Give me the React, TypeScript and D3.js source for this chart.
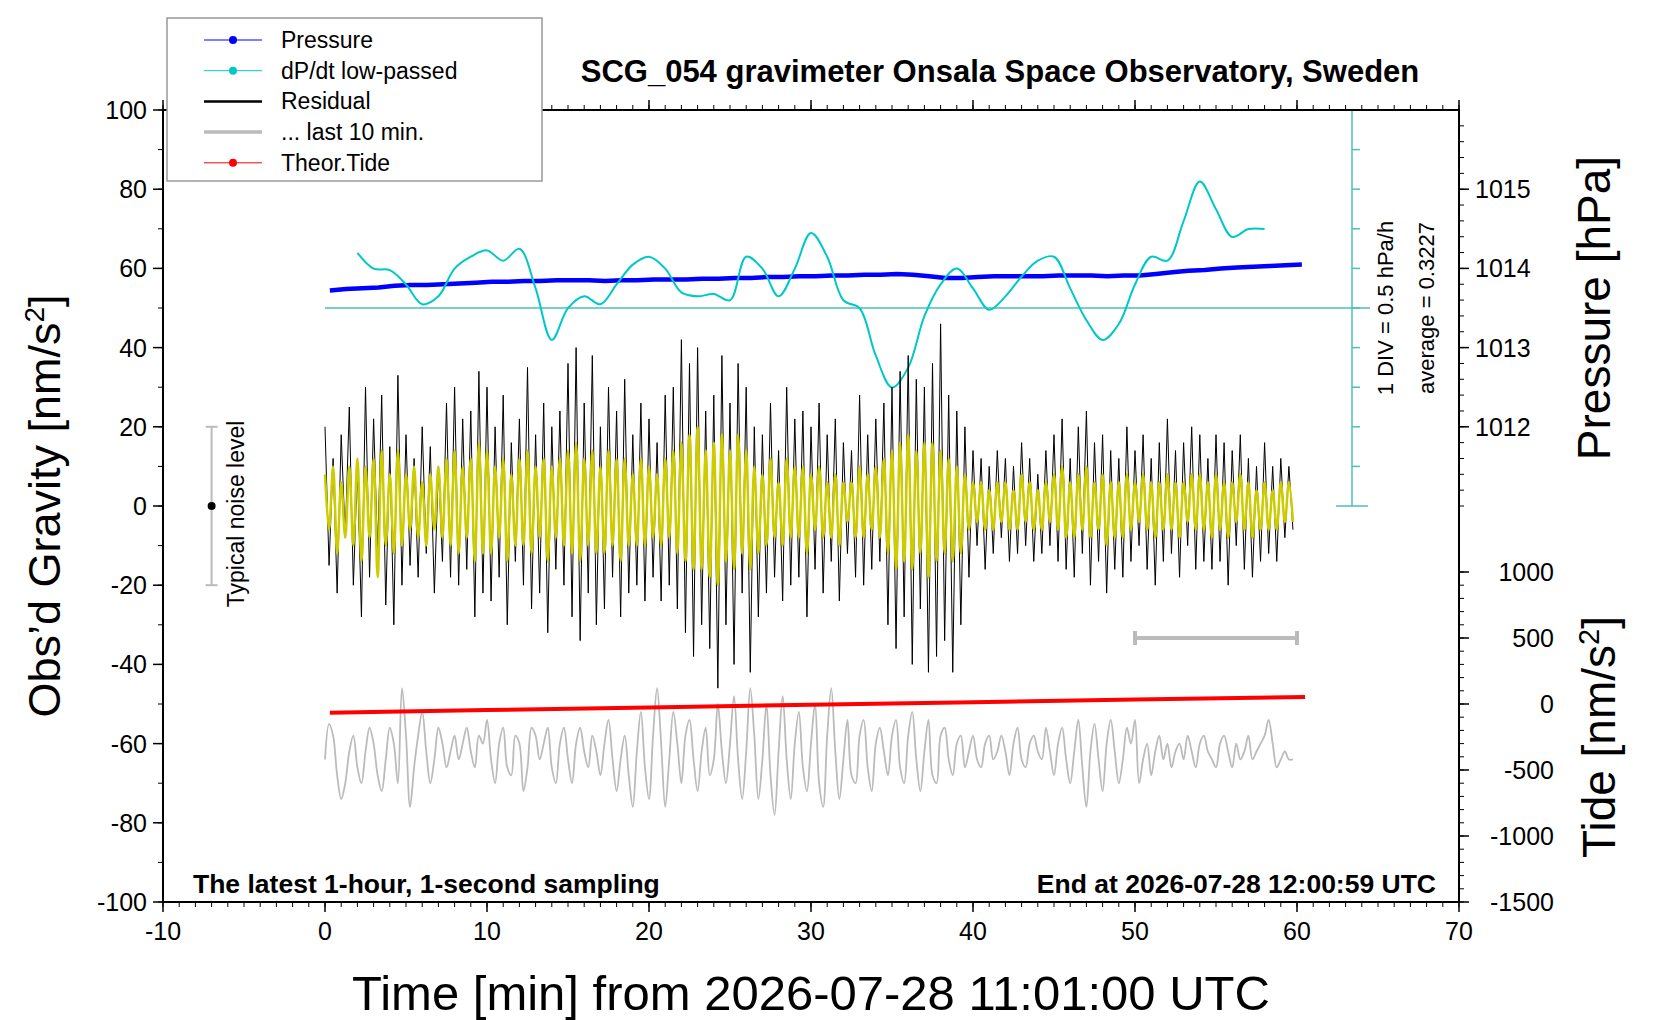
import * as d3 from 'd3';

// time axis (minutes), sample step of hand-read series
const step = 0.25;

const residual = [
  20,-15,12,-22,18,-8,25,-20,10,-28,30,-18,22,-12,28,-25,15,-30,33,-20,
  18,-15,12,-18,20,-12,15,-22,10,-14,26,-18,30,-20,22,-16,24,-28,34,-22,
  30,-24,20,-18,28,-30,16,-14,22,-20,35,-26,18,-22,26,-32,20,-16,24,-20,
  36,-28,40,-34,26,-22,38,-30,20,-26,30,-18,24,-28,32,-22,18,-20,26,-24,
  22,-18,16,-24,28,-20,30,-26,42,-32,36,-38,40,-30,24,-36,28,-46,38,-30,
  26,-40,36,-22,30,-42,20,-28,18,-22,26,-18,14,-24,30,-20,22,-18,24,-28,
  20,-16,26,-22,18,-14,22,-24,16,-12,14,-18,28,-20,18,-16,22,-14,26,-30,
  30,-36,34,-28,38,-40,32,-26,30,-42,36,-38,46,-34,28,-42,24,-30,20,-18,
  14,-10,12,-16,10,-12,14,-8,12,-14,10,-12,16,-10,12,-14,8,-12,14,-10,
  18,-14,22,-16,12,-18,20,-12,24,-20,16,-14,18,-22,14,-16,12,-18,20,-14,
  14,-10,18,-16,12,-20,16,-14,22,-12,14,-18,16,-10,20,-16,18,-14,12,-16,
  18,-14,16,-20,14,-10,18,-16,12,-18,10,-14,16,-12,10,-14,12,-8,10,-6,
];

const filtered = [
  8,-6,10,-12,6,-8,10,-10,12,-14,10,-8,12,-18,14,-10,8,-12,14,-10,
  8,-6,10,-8,6,-10,8,-6,10,-8,12,-10,14,-12,10,-8,12,-14,16,-12,
  14,-12,10,-8,12,-14,8,-10,12,-10,14,-12,10,-8,12,-14,10,-8,12,-10,
  14,-12,16,-14,12,-10,14,-12,10,-12,14,-10,12,-14,12,-10,8,-10,12,-10,
  10,-8,8,-10,12,-8,14,-12,16,-14,18,-16,20,-16,14,-18,16,-20,18,-14,
  14,-16,18,-12,14,-16,10,-12,8,-10,12,-8,6,-10,12,-8,10,-8,10,-12,
  8,-6,10,-8,6,-8,8,-10,6,-4,6,-8,10,-8,8,-6,10,-8,12,-12,
  14,-16,16,-14,18,-16,14,-12,16,-18,16,-14,14,-12,12,-14,10,-12,8,-6,
  6,-4,6,-6,4,-6,6,-4,6,-6,4,-6,8,-4,6,-6,4,-6,6,-4,
  8,-6,10,-8,6,-8,8,-6,10,-8,6,-6,8,-10,6,-8,6,-8,8,-6,
  6,-4,8,-6,6,-8,6,-6,8,-6,6,-8,6,-4,8,-6,8,-6,6,-8,
  8,-6,6,-8,6,-4,8,-6,6,-8,4,-6,6,-6,4,-6,6,-4,6,-4,
];

const last10 = [
  -64,-55,-58,-68,-74,-70,-62,-58,-66,-70,-62,-56,-60,-68,-72,-64,-56,-60,-70,-46,
  -58,-76,-66,-58,-52,-62,-70,-64,-56,-60,-66,-62,-58,-64,-60,-56,-62,-66,-58,-60,
  -54,-64,-70,-60,-56,-66,-68,-58,-60,-72,-66,-56,-58,-64,-60,-56,-66,-70,-60,-56,
  -64,-70,-60,-56,-62,-66,-58,-62,-68,-60,-54,-64,-72,-64,-58,-68,-76,-62,-52,-66,
  -74,-58,-46,-60,-76,-64,-52,-60,-70,-58,-54,-64,-72,-62,-56,-68,-64,-50,-62,-70,
  -60,-48,-64,-74,-62,-46,-58,-74,-64,-50,-68,-78,-62,-48,-64,-74,-60,-52,-66,-72,
  -60,-50,-70,-76,-58,-46,-62,-74,-64,-54,-68,-70,-58,-54,-66,-72,-60,-56,-62,-68,
  -58,-54,-66,-70,-58,-52,-64,-72,-62,-54,-68,-70,-58,-56,-64,-68,-60,-58,-66,-62,
  -58,-64,-66,-60,-58,-64,-62,-58,-62,-68,-60,-56,-64,-66,-60,-58,-62,-64,-56,-62,
  -68,-60,-56,-64,-70,-62,-54,-66,-76,-62,-55,-64,-72,-60,-54,-62,-70,-64,-56,-60,
  -54,-70,-64,-60,-68,-62,-58,-64,-60,-66,-62,-60,-64,-58,-62,-66,-60,-58,-62,-64,
  -66,-60,-58,-62,-66,-60,-64,-62,-58,-64,-62,-60,-58,-54,-60,-66,-64,-62,-64,-64,
];

// pressure, hPa, one value per minute from 0.3 min
const pressure = [
  1013.72,1013.74,1013.75,1013.76,1013.78,1013.79,1013.79,1013.80,1013.81,1013.82,
  1013.83,1013.83,1013.84,1013.84,1013.85,1013.85,1013.85,1013.84,1013.85,1013.85,
  1013.86,1013.86,1013.86,1013.87,1013.87,1013.88,1013.88,1013.89,1013.89,1013.90,
  1013.90,1013.91,1013.91,1013.92,1013.92,1013.93,1013.92,1013.90,1013.88,1013.88,
  1013.89,1013.90,1013.90,1013.90,1013.90,1013.91,1013.91,1013.91,1013.90,1013.91,
  1013.91,1013.93,1013.95,1013.97,1013.98,1014.00,1014.01,1014.02,1014.03,1014.04,1014.05,
];

// dP/dt low-passed, hPa/h, minutes 2..58
const dpdt = [
  1.02,0.82,0.80,0.62,0.37,0.47,0.82,0.97,1.05,0.92,1.07,0.57,-0.08,0.32,0.47,0.37,0.62,0.87,0.97,
  0.82,0.52,0.47,0.50,0.42,0.97,0.82,0.47,0.82,1.27,0.97,0.42,0.32,-0.28,-0.68,-0.43,0.22,0.62,
  0.82,0.57,0.30,0.47,0.72,0.92,0.97,0.57,0.17,-0.08,0.12,0.62,0.97,0.92,1.42,1.92,1.57,1.22,1.32,1.32,
];
const dpdtAverage = 0.3227;

const tideTimes = [0.3, 10, 20, 30, 40, 50, 60.5];
const tide = [-66, -46, -26, -6, 14, 34, 53];

const legendItems = [
  { label: 'Pressure', color: '#0000ff', dot: true, w: 1 },
  { label: 'dP/dt low-passed', color: '#00c8c8', dot: true, w: 1 },
  { label: 'Residual', color: '#000', dot: false, w: 2.5 },
  { label: '... last 10 min.', color: '#bbb', dot: false, w: 3.5 },
  { label: 'Theor.Tide', color: '#ff0000', dot: true, w: 1 },
];

const W = 1660, H = 1020;
const L = 163, R = 1459, T = 110, B = 902;
const font = '"Liberation Sans", Arial, sans-serif';

export default function App() {
  const x = d3.scaleLinear([-10, 70], [L, R]);
  const y = d3.scaleLinear([-100, 100], [B, T]);
  const yP = d3.scaleLinear([1014, 1015], [y(60), y(80)]);
  const yTide = d3.scaleLinear([-1500, 1000], [B, 572]);
  const yD = d3.scaleLinear([dpdtAverage - 2.5, dpdtAverage + 2.5], [y(0), y(100)]);

  const line = d3.line<number>().x((_, i) => x(i * step)).y((d) => y(d));
  const smooth = d3.line<number>().x((_, i) => x(i * step)).y((d) => y(d)).curve(d3.curveCatmullRom);
  const pLine = d3.line<number>().x((_, i) => x(0.3 + i)).y((d) => yP(d));
  const dLine = d3.line<number>().x((_, i) => x(2 + i)).y((d) => yD(d)).curve(d3.curveCatmullRom);
  const tLine = d3.line<number>().x((_, i) => x(tideTimes[i])).y((d) => yTide(d));

  const xMinor = d3.range(-10, 71, 1);
  const xMajor = d3.range(-10, 71, 10);
  const yMinor = d3.range(-100, 101, 10);
  const yMajor = d3.range(-100, 101, 20);
  const pMinor = d3.range(1011, 1015.9, 0.2);
  const pMajor = [1012, 1013, 1014, 1015];
  const tMinor = d3.range(-1500, 1001, 100);
  const tMajor = [-1500, -1000, -500, 0, 500, 1000];
  const dTicks = d3.range(0, 11);
  const cx = 1352;

  return (
    <svg width={W} height={H} style={{ position: 'absolute', left: 0, top: 0, background: '#fff' }} fontFamily={font}>
      {/* data */}
      <path d={pLine(pressure)!} fill="none" stroke="#0000ff" strokeWidth={4.5} />
      <line x1={x(0)} x2={cx + 18} y1={yD(dpdtAverage)} y2={yD(dpdtAverage)} stroke="#4cbfbf" strokeWidth={1.5} />
      <path d={dLine(dpdt)!} fill="none" stroke="#00c8c8" strokeWidth={2} />
      <path d={line(residual)!} fill="none" stroke="#000" strokeWidth={1} />
      <path d={smooth(filtered)!} fill="none" stroke="#cccc00" strokeWidth={2.5} />
      <path d={smooth(last10)!} fill="none" stroke="#bbb" strokeWidth={1.8} />
      <path d={tLine(tide)!} fill="none" stroke="#ff0000" strokeWidth={4} />

      {/* dP/dt scale */}
      <line x1={cx} x2={cx} y1={yD.range()[1]} y2={yD.range()[0]} stroke="#4cbfbf" strokeWidth={1.5} />
      {dTicks.map((d) => {
        const yy = yD.range()[0] + (yD.range()[1] - yD.range()[0]) * d / 10;
        const cap = d === 0 || d === 10;
        return <line key={d} x1={cap ? cx - 16 : cx} x2={cap ? cx + 16 : cx + 8} y1={yy} y2={yy} stroke="#4cbfbf" strokeWidth={1.5} />;
      })}
      <text transform={`translate(1393,${yD(dpdtAverage)}) rotate(-90)`} textAnchor="middle" fontSize={22}>1 DIV = 0.5 hPa/h</text>
      <text transform={`translate(1434,${yD(dpdtAverage)}) rotate(-90)`} textAnchor="middle" fontSize={22}>average = 0.3227</text>

      {/* noise level and 10-min bar */}
      <line x1={x(-7)} x2={x(-7)} y1={y(-20)} y2={y(20)} stroke="#bbb" strokeWidth={2} />
      <line x1={x(-7) - 6} x2={x(-7) + 6} y1={y(20)} y2={y(20)} stroke="#bbb" strokeWidth={2} />
      <line x1={x(-7) - 6} x2={x(-7) + 6} y1={y(-20)} y2={y(-20)} stroke="#bbb" strokeWidth={2} />
      <circle cx={x(-7)} cy={y(0)} r={4} fill="#000" />
      <text transform={`translate(244,${y(-2)}) rotate(-90)`} textAnchor="middle" fontSize={23}>Typical noise level</text>
      <line x1={x(50)} x2={x(60)} y1={yTide(500)} y2={yTide(500)} stroke="#bbb" strokeWidth={4} />
      <line x1={x(50)} x2={x(50)} y1={yTide(500) - 7} y2={yTide(500) + 7} stroke="#bbb" strokeWidth={4} />
      <line x1={x(60)} x2={x(60)} y1={yTide(500) - 7} y2={yTide(500) + 7} stroke="#bbb" strokeWidth={4} />

      {/* frame and axes */}
      <rect x={L} y={T} width={R - L} height={B - T} fill="none" stroke="#000" strokeWidth={2} />
      {xMinor.map((d) => (
        <g key={'xm' + d}>
          <line x1={x(d)} x2={x(d)} y1={B} y2={B + 5} stroke="#000" />
          <line x1={x(d)} x2={x(d)} y1={T} y2={T - 5} stroke="#000" />
        </g>
      ))}
      {xMajor.map((d) => (
        <g key={'xM' + d}>
          <line x1={x(d)} x2={x(d)} y1={B} y2={B + 10} stroke="#000" strokeWidth={1.5} />
          <line x1={x(d)} x2={x(d)} y1={T} y2={T - 10} stroke="#000" strokeWidth={1.5} />
          <text x={x(d)} y={B + 38} textAnchor="middle" fontSize={25}>{d}</text>
        </g>
      ))}
      {yMinor.map((d) => <line key={'ym' + d} x1={L} x2={L - 5} y1={y(d)} y2={y(d)} stroke="#000" />)}
      {yMajor.map((d) => (
        <g key={'yM' + d}>
          <line x1={L} x2={L - 10} y1={y(d)} y2={y(d)} stroke="#000" strokeWidth={1.5} />
          <text x={L - 16} y={y(d) + 9} textAnchor="end" fontSize={25}>{d}</text>
        </g>
      ))}
      {pMinor.map((d) => <line key={'pm' + d} x1={R} x2={R + 5} y1={yP(d)} y2={yP(d)} stroke="#000" />)}
      {pMajor.map((d) => (
        <g key={'pM' + d}>
          <line x1={R} x2={R + 10} y1={yP(d)} y2={yP(d)} stroke="#000" strokeWidth={1.5} />
          <text x={R + 16} y={yP(d) + 9} fontSize={25}>{d}</text>
        </g>
      ))}
      {tMinor.map((d) => <line key={'tm' + d} x1={R} x2={R + 5} y1={yTide(d)} y2={yTide(d)} stroke="#000" />)}
      {tMajor.map((d) => (
        <g key={'tM' + d}>
          <line x1={R} x2={R + 10} y1={yTide(d)} y2={yTide(d)} stroke="#000" strokeWidth={1.5} />
          <text x={R + 95} y={yTide(d) + 9} textAnchor="end" fontSize={25}>{d}</text>
        </g>
      ))}

      {/* labels */}
      <text x={1000} y={82} textAnchor="middle" fontSize={31} fontWeight="bold">SCG_054 gravimeter Onsala Space Observatory, Sweden</text>
      <text x={193} y={893} fontSize={26.5} fontWeight="bold">The latest 1-hour, 1-second sampling</text>
      <text x={1436} y={893} textAnchor="end" fontSize={26.5} fontWeight="bold">End at 2026-07-28 12:00:59 UTC</text>
      <text x={(L + R) / 2} y={1010} textAnchor="middle" fontSize={49}>Time [min] from 2026-07-28 11:01:00 UTC</text>
      <text transform={`translate(60,${(T + B) / 2}) rotate(-90)`} textAnchor="middle" fontSize={45}>
        Obs’d Gravity [nm/s<tspan dy={-16} fontSize={28}>2</tspan><tspan dy={16}>]</tspan>
      </text>
      <text transform={`translate(1610,${yP(1013.5)}) rotate(-90)`} textAnchor="middle" fontSize={46}>Pressure [hPa]</text>
      <text transform={`translate(1615,${yTide(-250)}) rotate(-90)`} textAnchor="middle" fontSize={46}>
        Tide [nm/s<tspan dy={-16} fontSize={29}>2</tspan><tspan dy={16}>]</tspan>
      </text>

      {/* legend */}
      <rect x={167} y={18} width={375} height={163} fill="#fff" stroke="#999" strokeWidth={1.5} />
      {legendItems.map((it, i) => {
        const yy = 40 + i * 30.7;
        return (
          <g key={it.label}>
            <line x1={204} x2={262} y1={yy} y2={yy} stroke={it.color} strokeWidth={it.w} />
            {it.dot && <circle cx={233} cy={yy} r={4} fill={it.color} />}
            <text x={281} y={yy + 8} fontSize={23}>{it.label}</text>
          </g>
        );
      })}
    </svg>
  );
}
